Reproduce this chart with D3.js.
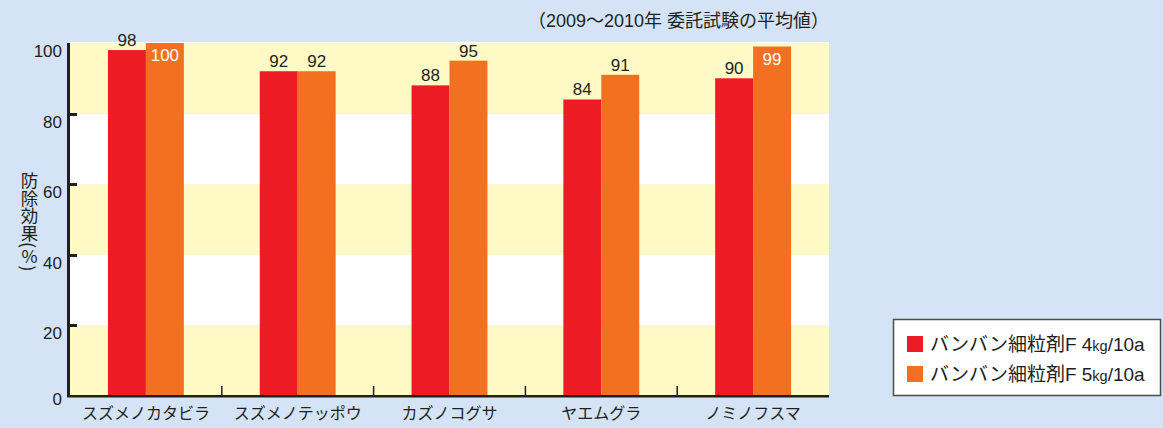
<!DOCTYPE html>
<html><head><meta charset="utf-8">
<script src="https://cdn.jsdelivr.net/npm/d3@7"></script>
<style>
html,body{margin:0;padding:0;background:#d4e3f5;}
svg{display:block;}
text{font-family:"Liberation Sans","Noto Sans CJK JP",sans-serif;fill:#231f20;}
</style></head>
<body>
<svg id="c" width="1163" height="428"></svg>
<script>
const categories = ["スズメノカタビラ","スズメノテッポウ","カズノコグサ","ヤエムグラ","ノミノフスマ"];
const series4kg = [98,92,88,84,90];
const series5kg = [100,92,95,91,99];
const seriesKeys = ["4kg","5kg"];
const seriesNames = [["バンバン細粒剤F 4","kg","/10a"],["バンバン細粒剤F 5","kg","/10a"]];
const yTicks = [0,20,40,60,80,100];
const title = "（2009～2010年 委託試験の平均値）";
const yTitle = "防除効果(％)";

const colors = {"4kg":"#ed1c24","5kg":"#f37021"};
const svg = d3.select("#c");
const L = 70, R = 829, T = 43, B = 396;

const x = d3.scaleBand().domain(categories).range([L, R]);
const xs = d3.scaleBand().domain(seriesKeys).range([0, x.bandwidth()]).paddingOuter(1);
const y = d3.scaleLinear().domain([0,100]).range([B, T]);

// bands
const bands = d3.pairs(yTicks);
svg.append("g").selectAll("rect").data(bands).join("rect")
  .attr("x", L).attr("width", R - L)
  .attr("y", d => y(d[1])).attr("height", d => y(d[0]) - y(d[1]))
  .attr("fill", (d,i) => i % 2 === 0 ? "#fff9c6" : "#ffffff");
svg.append("rect").attr("x", L).attr("width", R - L).attr("y", T - 1).attr("height", 1)
  .attr("fill", "#ffffff");

// bars
const rows = categories.map((c,i) => ({cat:c, vals:[{k:"4kg",v:series4kg[i]},{k:"5kg",v:series5kg[i]}]}));
const inside = d => y(d.v) - T < 5;
const g = svg.append("g").selectAll("g").data(rows).join("g")
  .attr("transform", d => `translate(${x(d.cat)},0)`);
g.selectAll("rect").data(d => d.vals).join("rect")
  .attr("x", d => xs(d.k)).attr("width", xs.bandwidth())
  .attr("y", d => y(d.v)).attr("height", d => B - y(d.v))
  .attr("fill", d => colors[d.k]);
g.selectAll("text").data(d => d.vals).join("text")
  .attr("x", d => xs(d.k) + xs.bandwidth()/2)
  .attr("y", d => inside(d) ? y(d.v) + 18 : y(d.v) - 4)
  .attr("text-anchor", "middle")
  .style("font-size", "17px")
  .style("fill", d => inside(d) ? "#ffffff" : "#231f20")
  .text(d => d.v);

// y axis labels
const yAxis = d3.axisLeft(y).tickValues(yTicks).tickSize(0).tickPadding(7.5);
const ya = svg.append("g").attr("transform", `translate(${L - 0.5},0)`).call(yAxis);
ya.select(".domain").remove();
ya.selectAll(".tick text").style("font-size", "17px")
  .attr("font-family", null)
  .attr("dy", d => d === 0 ? "0.47em" : "0.79em");

// y axis line + ticks
const yl = svg.append("g").attr("class", "yaxis-line");
yl.append("rect").attr("x", L - 3).attr("width", 3).attr("y", T).attr("height", B - T + 1)
  .attr("fill", "#231f20");
yl.selectAll("rect.t").data(yTicks.filter(t => t > 0 && t < 100)).join("rect").attr("class", "t")
  .attr("x", L - 3).attr("width", 10).attr("y", d => Math.round(y(d)) - 1).attr("height", 3)
  .attr("fill", "#231f20");

// x axis
const xa = svg.append("g").attr("transform", `translate(0,${B})`);
xa.append("rect").attr("x", L - 3).attr("width", R - L + 3).attr("y", -1).attr("height", 2.5)
  .attr("fill", "#231f20");
xa.selectAll("rect.sep").data(categories.slice(1)).join("rect").attr("class","sep")
  .attr("x", d => x(d) - 0.75).attr("width", 1.5).attr("y", -10).attr("height", 10)
  .attr("fill", "#231f20");
xa.selectAll("text").data(categories).join("text")
  .attr("x", d => x(d) + x.bandwidth()/2).attr("y", 17.5)
  .attr("text-anchor", "middle").attr("dominant-baseline", "central")
  .style("font-size", "16px").text(d => d);

// y title
svg.append("text").attr("x", 29.5).attr("y", 172)
  .style("writing-mode", "vertical-rl").style("font-size", "17.5px")
  .style("font-family", "'Noto Sans CJK JP',sans-serif")
  .text(yTitle);

// title
svg.append("text").attr("x", 829).attr("y", 26.5).attr("text-anchor", "end")
  .style("font-size", "18px").text(title);

// legend
const lg = svg.append("g");
lg.append("rect").attr("x", 893.5).attr("y", 319.5).attr("width", 267).attr("height", 76)
  .attr("fill", "#ffffff").attr("stroke", "#4d4d4d").attr("stroke-width", 1.5);
const li = lg.selectAll("g").data(seriesKeys).join("g")
  .attr("transform", (d,i) => `translate(907,${336 + i*30})`);
li.append("rect").attr("width", 16).attr("height", 16).attr("fill", d => colors[d]);
const lt = li.append("text").attr("x", 23).attr("y", 15).style("font-size", "19px");
lt.append("tspan").text((d,i) => seriesNames[i][0]);
lt.append("tspan").style("font-size", "14.5px").text((d,i) => seriesNames[i][1]);
lt.append("tspan").text((d,i) => seriesNames[i][2]);
</script>
</body></html>
